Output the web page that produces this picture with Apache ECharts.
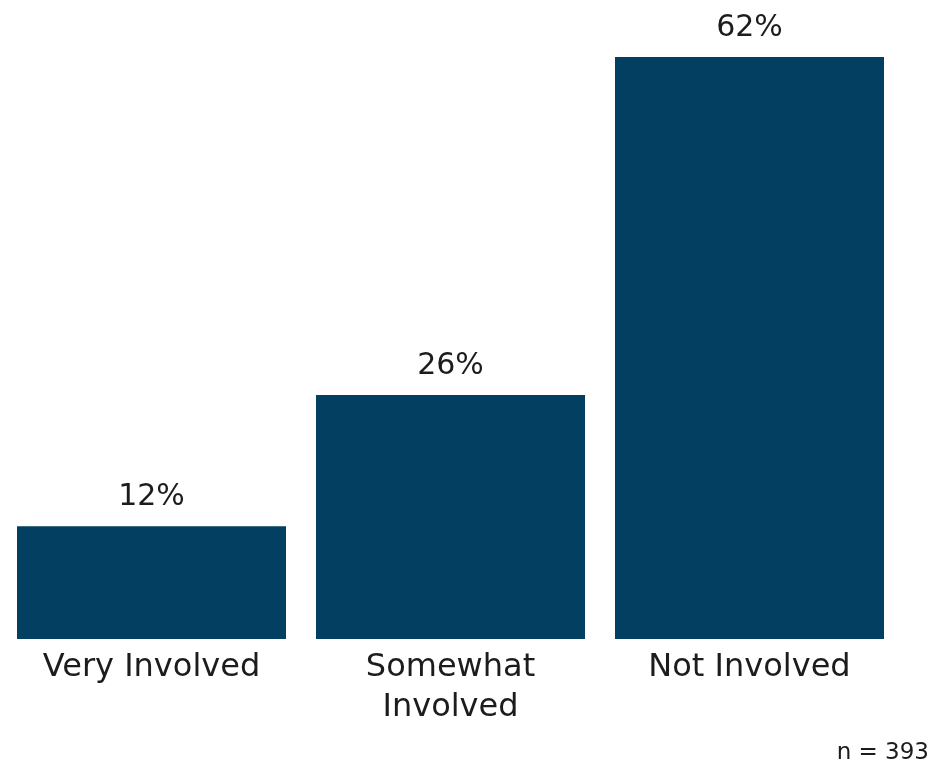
<!DOCTYPE html>
<html>
<head>
<meta charset="utf-8">
<script src="https://cdn.jsdelivr.net/npm/echarts@6/dist/echarts.min.js"></script>
<style>
  html, body { margin: 0; padding: 0; background: #ffffff; }
  #chart { width: 933px; height: 765px; }
</style>
</head>
<body>
<div id="chart"></div>
<script>
// Involvement levels and their share of respondents (%)
const categories = ['Very Involved', 'Somewhat\nInvolved', 'Not Involved'];
const shares = [12, 26, 62];
const sampleNote = 'n = 393';

const barColor = '#023F60';
const textColor = '#1c1c1c';
const fontFamily = '"DejaVu Sans", Verdana, sans-serif';

const chart = echarts.init(document.getElementById('chart'));
chart.setOption({
  animation: false,
  backgroundColor: '#ffffff',
  grid: { left: 2, right: 34, top: 57, bottom: 126, containLabel: false },
  xAxis: {
    type: 'category',
    data: categories,
    axisLine: { show: false },
    axisTick: { show: false },
    axisLabel: {
      color: textColor,
      fontFamily: fontFamily,
      fontSize: 32,
      lineHeight: 40,
      margin: 9,
      interval: 0
    }
  },
  yAxis: {
    type: 'value',
    min: 0,
    max: 62,
    show: false,
    splitLine: { show: false }
  },
  series: [{
    type: 'bar',
    data: shares,
    barWidth: 269,
    itemStyle: { color: barColor },
    label: {
      show: true,
      position: 'top',
      distance: 14,
      formatter: '{c}%',
      color: textColor,
      fontFamily: fontFamily,
      fontSize: 30
    }
  }],
  graphic: [{
    type: 'text',
    right: 4,
    top: 742,
    style: {
      text: sampleNote,
      fill: textColor,
      font: '23px ' + fontFamily
    }
  }]
});
</script>
</body>
</html>
